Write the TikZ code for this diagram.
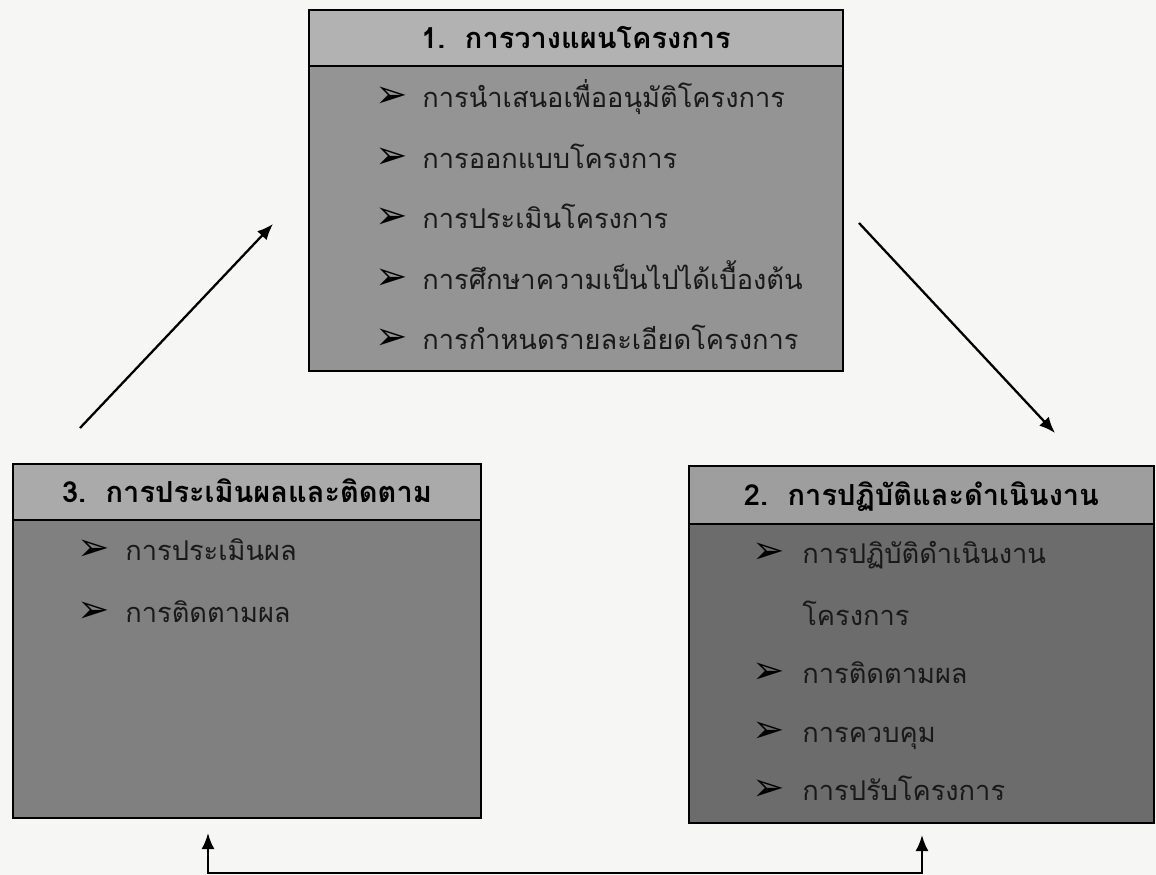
\documentclass[tikz,border=0pt]{standalone}
\usepackage{fontspec}
\setmainfont[Script=Thai]{Loma}
\newfontfamily\dingfont{DejaVu Sans}
\usetikzlibrary{arrows.meta,positioning,calc}
\definecolor{hatter}{RGB}{246,246,244}
\definecolor{fej1}{RGB}{178,178,178}
\definecolor{test1}{RGB}{148,148,148}
\definecolor{fej3}{RGB}{170,170,170}
\definecolor{test3}{RGB}{128,128,128}
\definecolor{fej2}{RGB}{158,158,158}
\definecolor{test2}{RGB}{108,108,108}
\tikzset{
  fej/.style={draw,line width=0.9pt,outer sep=0pt,font=\fontsize{16.5}{20}\selectfont\bfseries,
    text height=0.42cm,text depth=0pt},
  test/.style={draw,line width=0.9pt,outer sep=0pt},
  itm/.style={anchor=base west,inner sep=0pt,text=black!90,font=\fontsize{15.5}{19}\selectfont},
  bul/.style={anchor=base west,inner sep=0pt,font=\dingfont\fontsize{22}{24}\selectfont},
  nyil/.style={line width=1.3pt,-{Latex[length=3.2mm,width=2.6mm]}},
}
\begin{document}
\begin{tikzpicture}[x=0.02cm,y=-0.02cm]
  \fill[hatter] (0,0) rectangle (1156,875);
  \useasboundingbox (0,0) rectangle (1156,875);
  % 1. tervezes
  \node[fej,fill=fej1,minimum width=10.68cm,minimum height=1.12cm] (terv) at (576,38) {1.\ \ การวางแผนโครงการ};
  \node[test,fill=test1,minimum width=10.68cm,minimum height=6.10cm,below=0pt of terv] (terv-b) {};
  \foreach \t [count=\i] in {การนำเสนอเพื่ออนุมัติโครงการ, การออกแบบโครงการ, การประเมินโครงการ,
      การศึกษาความเป็นไปได้เบื้องต้น, การกำหนดรายละเอียดโครงการ} {
    \node[bul] (terv-p\i) at (375,{47+60.5*\i}) {➢};
    \node[itm] (terv-\i) at (422,{47+60.5*\i}) {\t};
  }
  % 3. ertekeles
  \node[fej,fill=fej3,minimum width=9.36cm,minimum height=1.12cm] (ert) at (247,492) {3.\ \ การประเมินผลและติดตาม};
  \node[test,fill=test3,minimum width=9.36cm,minimum height=5.96cm,below=0pt of ert] (ert-b) {};
  \foreach \t [count=\i] in {การประเมินผล, การติดตามผล} {
    \node[bul] (ert-p\i) at (77,{498+62*\i}) {➢};
    \node[itm] (ert-\i) at (125,{498+62*\i}) {\t};
  }
  % 2. vegrehajtas
  \node[fej,fill=fej2,minimum width=9.30cm,minimum height=1.16cm] (vegr) at (921.5,495) {2.\ \ การปฏิบัติและดำเนินงาน};
  \node[test,fill=test2,minimum width=9.30cm,minimum height=5.98cm,below=0pt of vegr] (vegr-b) {};
  \foreach \y/\t [count=\i] in {563/การปฏิบัติดำเนินงาน, 625/โครงการ, 683/การติดตามผล, 742/การควบคุม, 800/การปรับโครงการ}
    \node[itm] (vegr-\i) at (802,\y) {\t};
  \foreach \y [count=\i] in {563,683,742,800}
    \node[bul] (vegr-p\i) at (752,\y) {➢};
  % nyilak
  \coordinate (a1) at (80,428);  \coordinate (a2) at (273,224);
  \coordinate (b1) at (859,223); \coordinate (b2) at (1055,433);
  \coordinate (c1) at (208,833); \coordinate (c2) at (208,873);
  \coordinate (d1) at (922,873); \coordinate (d2) at (922,835);
  \draw[nyil] (a1) -- (a2);
  \draw[nyil] (b1) -- (b2);
  \draw[nyil,{Latex[length=3.2mm,width=2.6mm]}-{Latex[length=3.2mm,width=2.6mm]}] (c1) -- (c2) -- (d1) -- (d2);
\end{tikzpicture}
\end{document}
